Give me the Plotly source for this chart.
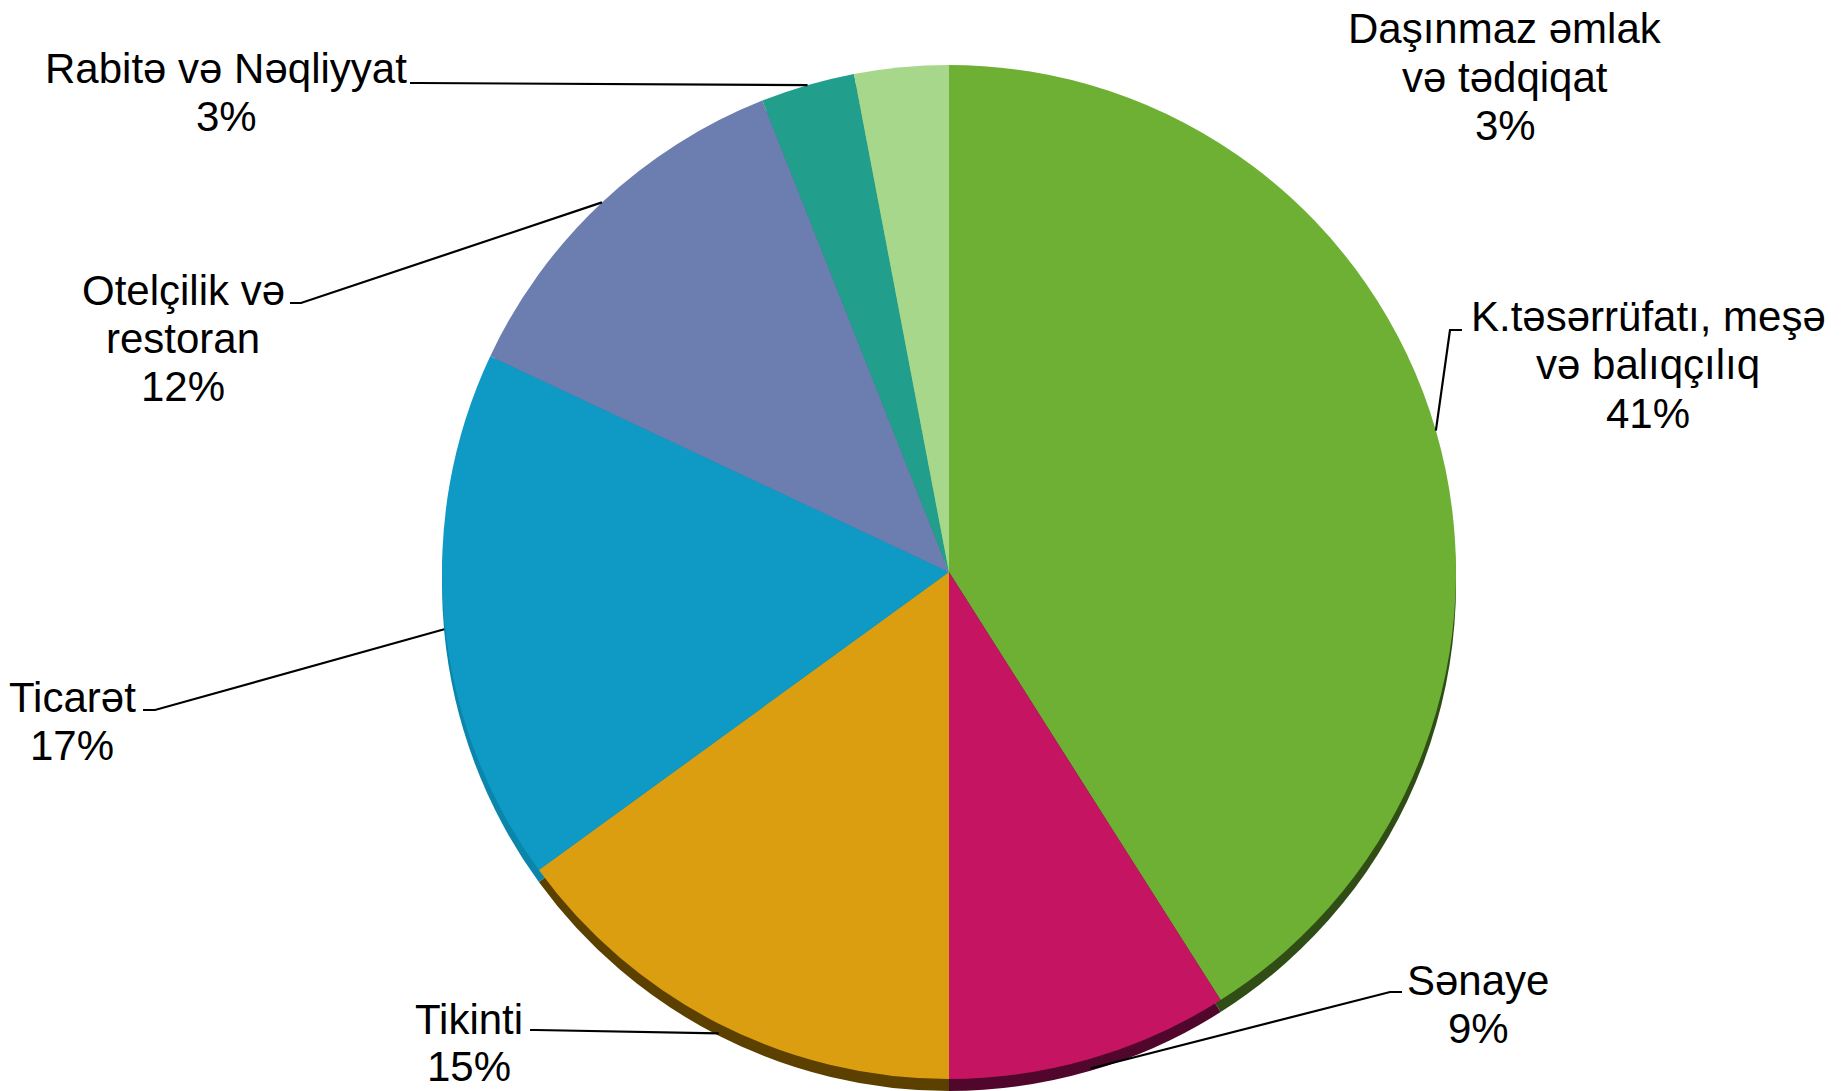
import plotly.graph_objects as go
import math

W, H = 1847, 1091

# ---- data ----
categories = ["K.təsərrüfatı, meşə<br>və balıqçılıq", "Sənaye", "Tikinti", "Ticarət",
              "Otelçilik və<br>restoran", "Rabitə və Nəqliyyat", "Daşınmaz əmlak<br>və tədqiqat"]
values = [41, 9, 15, 17, 12, 3, 3]
pct_labels = ["41%", "9%", "15%", "17%", "12%", "3%", "3%"]
colors = ["#6DB033", "#C51462", "#DA9E10", "#0E9AC4", "#6C7DB0", "#229E8C", "#A6D78A"]
rim_colors = ["#2F4D14", "#50072B", "#5C4000", "#0B85AA", "#5E6E9E", "#1D8C7C", "#94C479"]

# ---- layout geometry (pixels) ----
cx, cy, r = 949, 572, 507
depth = 12
# label text centers (x, first line y), line spacing
label_pos = [(1648, 316), (1478, 980), (469, 1020), (72, 697), (183, 290), (226, 68), (1505, 29)]
line_gap = 48.5
# elbow points for leader lines (text-side end, elbow); None = no leader
elbows = [((1462, 330), (1450, 330)), ((1402, 992), (1390, 992)), ((530, 1030), (536, 1030)),
          ((143, 710), (155, 710)), ((290, 303), (301, 303)), ((410, 83), (418, 83)), None]


def px(x):
    return min(max(x / W, 0.0), 1.0)


def py(y):
    return min(max(1 - y / H, 0.0), 1.0)


fig = go.Figure()

# 3D rim (drawn first, shifted down)
fig.add_trace(go.Pie(
    values=values, labels=categories, sort=False, direction="clockwise", rotation=0,
    marker=dict(colors=rim_colors, line=dict(width=0)), textinfo="none", hoverinfo="skip",
    domain=dict(x=[px(cx - r), px(cx + r)], y=[py(cy + r + depth), py(cy - r + depth)]),
    showlegend=False))

fig.add_trace(go.Pie(
    values=values, labels=categories, sort=False, direction="clockwise", rotation=0,
    marker=dict(colors=colors, line=dict(width=0)), textinfo="none",
    domain=dict(x=[px(cx - r), px(cx + r)], y=[py(cy + r), py(cy - r)]),
    showlegend=False))

total = sum(values)
cum = 0
font = dict(family="Liberation Sans, Arial, sans-serif", size=42, color="#000000")
for i, v in enumerate(values):
    mid = (cum + v / 2) / total * 2 * math.pi
    cum += v
    lines = categories[i].split("<br>") + [pct_labels[i]]
    lx, ly = label_pos[i]
    gap = line_gap if i != 2 else 46
    for j, t in enumerate(lines):
        fig.add_annotation(x=px(lx), y=py(ly + j * gap), xref="paper", yref="paper",
                           text=t, showarrow=False, font=font, xanchor="center", yanchor="middle")
    if elbows[i] is not None:
        (x0, y0), (x1, y1) = elbows[i]
        ex = cx + r * math.sin(mid)
        ey = cy - r * math.cos(mid)
        if math.cos(mid) < 0:
            ey += depth * 0.8
        path = f"M {px(x0)},{py(y0)} L {px(x1)},{py(y1)} L {px(ex)},{py(ey)}"
        fig.add_shape(type="path", path=path, xref="paper", yref="paper",
                      line=dict(color="#000000", width=2.2))

fig.update_layout(width=W, height=H, margin=dict(l=0, r=0, t=0, b=0),
                  paper_bgcolor="white", plot_bgcolor="white")
fig.write_html("out.html", config={"displayModeBar": False},
               post_script="document.body.style.margin='0';document.body.style.overflow='hidden';")
